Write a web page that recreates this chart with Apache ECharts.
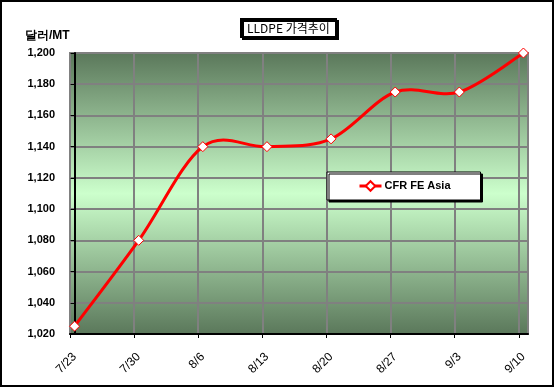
<!DOCTYPE html>
<html>
<head>
<meta charset="utf-8">
<script src="https://cdn.jsdelivr.net/npm/echarts@6/dist/echarts.min.js"></script>
<style>
html,body{margin:0;padding:0;background:#fff;}
#c{width:556px;height:390px;}
</style>
</head>
<body>
<div id="c"></div>
<script>
// ---- data ----
var categories = ['7/23','7/30','8/6','8/13','8/20','8/27','9/3','9/10'];
var seriesName = 'CFR FE Asia';
var values = [1025, 1080, 1140, 1140, 1145, 1175, 1175, 1200];
var yTicks = [1020,1040,1060,1080,1100,1120,1140,1160,1180,1200];
var titleText = 'LLDPE 가격추이';
var yName = '달러/MT';

// day offsets derived from the category dates
function dayOf(s){var p=s.split('/');return Date.UTC(2007,+p[0]-1,+p[1])/86400000;}
var day0 = dayOf(categories[0]);
var days = categories.map(function(c){return Math.round(dayOf(c)-day0);});
var points = days.map(function(d,i){return [d, values[i]];});
var labelDays = days.slice();
var tickDays = days.map(function(d){return d-0.5;});

var font = 'Arial, "Liberation Sans", sans-serif';

// smooth (Catmull-Rom style) segment from point i to i+1, coordinates via the axes
function renderSegment(params, api){
  var i = params.dataIndex, n = points.length;
  if (i >= n-1) return null;
  var P = function(k){ k = Math.max(0, Math.min(n-1, k)); return api.coord(points[k]); };
  var p0 = P(i-1), p1 = P(i), p2 = P(i+1), p3 = P(i+2);
  var t = 1/6;
  return {
    type:'bezierCurve',
    shape:{
      x1:p1[0], y1:p1[1], x2:p2[0], y2:p2[1],
      cpx1:p1[0]+(p2[0]-p0[0])*t, cpy1:p1[1]+(p2[1]-p0[1])*t,
      cpx2:p2[0]-(p3[0]-p1[0])*t, cpy2:p2[1]-(p3[1]-p1[1])*t
    },
    style:{fill:null, stroke:'#ff0000', lineWidth:3, lineCap:'round'},
    silent:true
  };
}

var chart = echarts.init(document.getElementById('c'), null, {renderer:'canvas'});
chart.setOption({
  animation:false,
  backgroundColor:'#fff',
  title:{
    text:titleText,
    left:241, top:19,
    padding:[2,6,2,6],
    borderColor:'#000', borderWidth:2,
    backgroundColor:'#fff',
    shadowColor:'#000', shadowOffsetX:2, shadowOffsetY:2, shadowBlur:0,
    textStyle:{fontFamily:'"Noto Sans CJK KR", sans-serif', fontSize:12, fontWeight:'normal', color:'#000', lineHeight:14}
  },
  legend:{
    data:[seriesName],
    left:327, top:172,
    padding:[7,30,7,31],
    itemWidth:22, itemHeight:12, itemGap:0,
    backgroundColor:'#fff', borderColor:'#000', borderWidth:1,
    shadowColor:'#000', shadowOffsetX:2, shadowOffsetY:2, shadowBlur:0,
    lineStyle:{color:'#ff0000', width:3, opacity:1},
    textStyle:{fontFamily:font, fontSize:11, fontWeight:'bold', color:'#000', padding:[0,0,0,-2], lineHeight:14}
  },
  grid:{
    left:70, right:28, top:53, bottom:56,
    show:true,
    borderColor:'#808080', borderWidth:2,
    backgroundColor:{type:'linear',x:0,y:0,x2:0,y2:1,colorStops:[
      {offset:0,color:'#5a775a'},{offset:0.5,color:'#ccffcc'},{offset:1,color:'#5a775a'}]}
  },
  xAxis:{
    type:'value',
    min:days[0]-0.5, max:days[days.length-1]+0.5, interval:7,
    axisLine:{show:true,onZero:false,lineStyle:{color:'#000',width:2}},
    axisTick:{show:true,inside:false,length:4,lineStyle:{color:'#000',width:1},customValues:tickDays},
    splitLine:{show:true,lineStyle:{color:'#808080',width:2}},
    axisLabel:{
      customValues:labelDays,
      rotate:45, margin:21,
      fontFamily:font, fontSize:12, color:'#000',
      formatter:function(v){var i=days.indexOf(Math.round(v));return i>=0?categories[i]:'';}
    }
  },
  yAxis:{
    type:'value',
    min:yTicks[0], max:yTicks[yTicks.length-1], interval:20,
    name:yName, nameLocation:'end', nameGap:11,
    nameTextStyle:{fontFamily:font, fontSize:12, fontWeight:'bold', color:'#000', align:'right', padding:[0,5,0,0]},
    axisLine:{show:true,lineStyle:{color:'#000',width:2}},
    axisTick:{show:true,inside:false,length:4,lineStyle:{color:'#000',width:1}},
    splitLine:{show:true,lineStyle:{color:'#808080',width:2}},
    axisLabel:{
      margin:15, fontFamily:font, fontSize:11, fontWeight:'bold', color:'#000',
      formatter:function(v){return String(v).replace(/\B(?=(\d{3})+(?!\d))/g, ',');}
    }
  },
  series:[{
    name:'smooth',
    type:'custom',
    data:points,
    renderItem:renderSegment,
    clip:false,
    z:2
  },{
    name:seriesName,
    type:'line',
    data:points,
    symbol:'diamond', symbolSize:10, showAllSymbol:true,
    lineStyle:{color:'#ff0000', width:0},
    itemStyle:{color:'#ffffff', borderColor:'#ff0000', borderWidth:1},
    z:3
  }],
  graphic:[{
    type:'rect', silent:true, z:100,
    shape:{x:1,y:1,width:552,height:385},
    style:{fill:null, stroke:'#000', lineWidth:2}
  }]
});
</script>
</body>
</html>
